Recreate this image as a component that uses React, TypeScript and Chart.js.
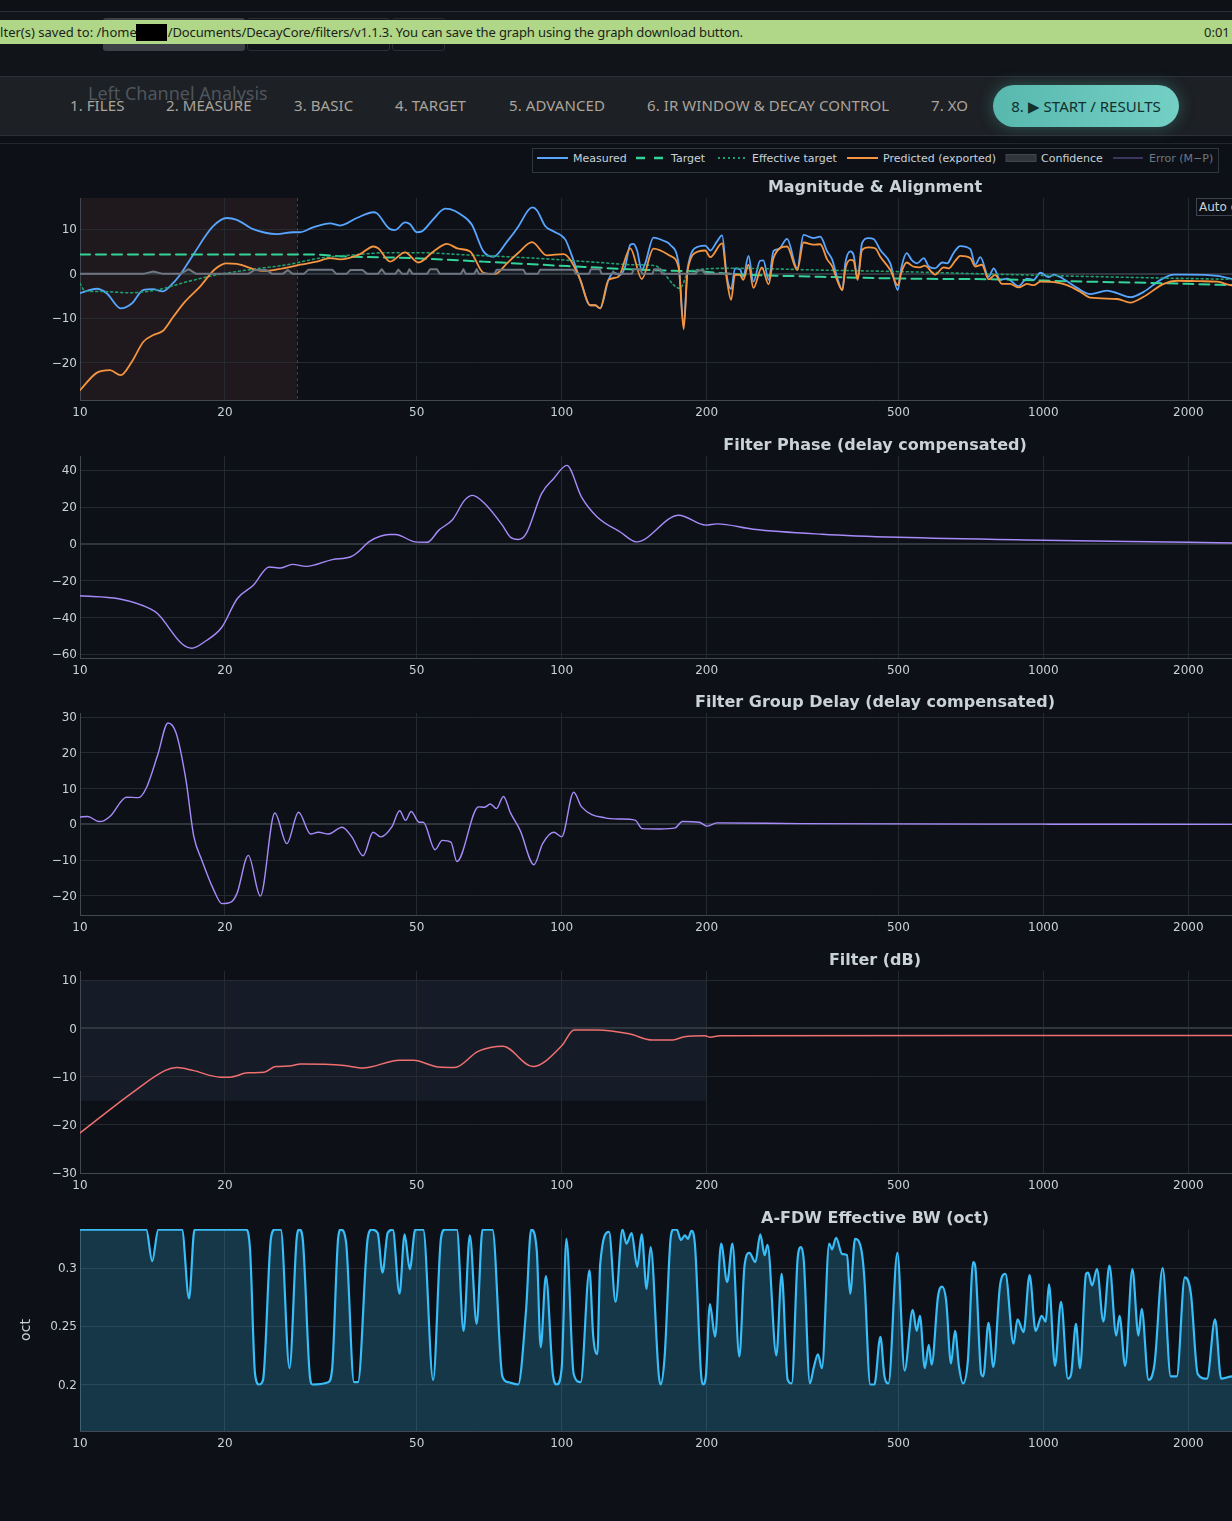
import React, { useEffect, useRef } from "react";
import { Chart, registerables } from "chart.js";

Chart.register(...registerables);

// ---------------- DATA ----------------
const X_TICKS = [10, 20, 50, 100, 200, 500, 1000, 2000, 5000, 10000, 20000];

const MEAS_HZ = [
  10, 10.83, 11.36, 12.15, 12.81, 13.52, 14.18, 14.85, 15.38, 16.13,
  17.17, 18.88, 20.17, 21.16, 22.88, 25.63, 27.7, 28.64, 30.47, 33.05,
  34.67, 37.55, 40.66, 41.3, 44.04, 45.1, 47.3, 48.46, 50.0, 51.25,
  54.1, 57.3, 58.67, 61.54, 65.1, 68.8, 72.2, 77.0, 81.3, 85.3,
  87.0, 88.9, 92.4, 96.1, 101.7, 104.2, 109.3, 114.6, 117.4, 120.2,
  125.1, 128.1, 132.3, 135.5, 138.8, 141.0, 143.3, 146.7, 149.1, 155.1,
  162.7, 168.0, 175.0, 179.2, 182.6, 192.4, 198.7, 203.5, 210.0, 215.3,
  220.3, 224.8, 229.0, 234.5, 238.2, 244.3, 250.1, 258.2, 262.3, 268.9,
  275.4, 282.1, 293.7, 308.4, 317.8, 333.2, 344.3, 355.8, 364.6, 372.9,
  382.6, 388.0, 397.4, 403.7, 411.6, 420.2, 433.5, 444.2, 458.7, 481.2,
  498.5, 508.0, 520.3, 532.7, 546.8, 564.6, 578.3, 596.2, 616.6, 631.3,
  650.8, 672.0, 705.3, 722.2, 740.0, 770.0, 788.7, 814, 840.7, 888.6,
  925, 954.7, 985.8, 1025.7, 1050.5, 1101, 1175, 1252, 1356, 1423,
  1516, 1615, 1751, 1865, 1988, 2296, 2446, 2500,
];
const MEAS_DB = [
  -4.4, -3.4, -4.4, -7.8, -6.7, -3.7, -3.5, -4.0, -2.8, -0.3,
  4.2, 10.6, 12.5, 12.1, 10.0, 8.9, 9.3, 9.3, 10.4, 11.3,
  10.8, 12.5, 13.8, 13.6, 10.0, 9.8, 11.5, 11.1, 9.3, 9.5,
  12.2, 14.6, 14.5, 13.4, 11.0, 5.0, 3.8, 7.2, 10.6, 14.3,
  14.9, 14.2, 10.7, 9.5, 7.7, 5.0, -1.4, -7.1, -7.1, -7.8,
  -1.4, 0.2, -0.3, 1.6, 6.5, 6.7, 5.3, 0.8, 2.3, 8.1,
  7.4, 6.5, 2.0, -11.5, 1.2, 6.1, 6.3, 5.2, 7.2, 8.6,
  -0.7, -3.5, 1.2, 1.0, -0.7, 4.0, -1.8, 2.9, 3.0, -1.4,
  5.1, 5.5, 7.8, 1.2, 8.7, 8.0, 8.3, 5.0, 3.1, -0.7,
  -3.7, 2.3, 5.0, 4.2, -1.1, 6.8, 8.0, 7.8, 5.3, 2.3,
  -3.7, 1.6, 4.6, 3.1, 2.3, 3.5, 1.6, 1.2, 2.5, 2.3,
  4.6, 6.2, 5.5, 2.0, 3.7, -0.7, 1.2, -1.4, -1.1, -2.8,
  -1.1, -1.4, 0.2, -0.8, -0.2, -1.2, -3.2, -4.6, -3.8, -4.4,
  -5.3, -4.1, -1.4, -0.2, -0.2, -0.5, -1.1, -1.3,
];

const PRED_HZ = [
  10, 10.83, 11.54, 12.15, 12.81, 13.54, 14.2, 14.85, 15.62, 16.52,
  17.75, 19.06, 20.17, 21.16, 23.3, 24.4, 26.4, 28.64, 31.0, 33.05,
  34.67, 38.15, 40.66, 41.6, 44.04, 47.3, 50.4, 54.2, 57.8, 61.0,
  64.55, 68.8, 72.7, 77.0, 81.3, 86.8, 93.1, 100.9, 104.2, 109.3,
  114.6, 117.4, 120.2, 125.1, 131.2, 138.8, 146.7, 155.1, 168.0, 175.0,
  179.2, 182.6, 192.4, 198.7, 203.5, 215.3, 220.3, 224.8, 229.0, 234.5,
  238.2, 244.3, 250.1, 260.3, 268.9, 275.4, 293.7, 308.4, 317.8, 333.2,
  344.3, 355.8, 364.6, 372.9, 382.6, 388.0, 397.4, 403.7, 411.6, 420.2,
  433.5, 447.5, 458.7, 481.2, 498.5, 508.0, 520.3, 536.7, 554.0, 567.4,
  596.2, 621.2, 636.0, 656.5, 672.0, 705.3, 722.2, 745.5, 770.0, 794.0,
  820.6, 853.4, 888.6, 925, 954.7, 985.8, 1068, 1120, 1194, 1252,
  1423, 1516, 1615, 1778, 1895, 2119, 2296, 2446, 2500,
];
const PRED_DB = [
  -26.2, -22.3, -21.7, -22.8, -19.8, -15.3, -13.8, -12.9, -9.7, -6.3,
  -2.9, 1.0, 2.3, 2.2, 0.8, 0.6, 1.2, 2.0, 2.7, 3.5,
  3.2, 4.4, 6.1, 5.7, 2.7, 4.8, 2.5, 5.0, 6.7, 5.6,
  5.0, 0.2, -0.1, 2.3, 4.7, 7.1, 4.1, 4.4, 3.1, -1.4,
  -7.1, -7.1, -7.8, -1.4, -0.7, 5.7, -1.2, 5.6, 4.0, 1.2,
  -12.5, 0.8, 5.0, 5.2, 3.7, 6.8, -1.4, -5.9, -0.2, -0.3,
  -1.4, 2.0, -3.2, 1.4, -2.4, 3.6, 6.1, 0.8, 7.0, 6.5,
  6.6, 3.2, 1.6, -1.4, -3.7, 1.0, 3.1, 2.9, -1.4, 5.3,
  5.9, 5.7, 3.8, 0.8, -2.6, 0.5, 2.5, 1.6, 1.4, 1.8,
  -0.2, 1.4, 1.2, 2.9, 4.0, 3.5, 1.6, 2.0, -1.3, -0.3,
  -2.3, -2.3, -3.1, -2.3, -2.6, -1.8, -2.0, -2.6, -4.1, -5.4,
  -5.7, -6.5, -5.2, -2.3, -1.6, -1.7, -1.8, -2.6, -2.7,
];

const TARGET_HZ = [10, 30.5, 34.7, 48.5, 68.7, 102.7, 152.7, 194, 227, 344, 505, 814, 1121, 1538, 1991, 2500];
const TARGET_DB = [4.3, 4.3, 3.9, 3.5, 2.7, 1.7, 0.8, 0.45, -0.1, -0.7, -1.1, -1.3, -1.7, -2.0, -2.3, -2.6];

const EFF_HZ = [
  10, 10.24, 11.0, 12.7, 14.66, 16.7, 19.5, 22.9, 26.9, 31.5,
  36.9, 43.4, 50.9, 63.6, 87.1, 120, 141, 156, 176, 184,
  227, 344, 505, 814, 1311, 2500,
];
const EFF_DB = [
  -2.2, -3.9, -4.0, -4.3, -3.5, -1.8, -0.15, 1.0, 2.0, 3.5,
  4.2, 4.7, 4.7, 4.2, 3.5, 2.5, 2.0, 1.8, -3.3, 0.6,
  1.2, 0.8, 0.45, -0.15, -0.7, -1.3,
];

const CONF_HZ = [
  10, 13.6, 14.2, 14.8, 16.2, 16.8, 17.4, 22.4, 23.0, 24.4,
  25.0, 26.4, 27.0, 27.6, 29.2, 29.8, 33.4, 34.0, 35.8, 36.4,
  38.6, 39.4, 41.6, 42.3, 43.0, 45.2, 45.8, 46.6, 47.8, 48.3,
  49.0, 52.6, 53.3, 55.1, 55.8, 61.8, 62.5, 63.2, 65.9, 66.6,
  67.3, 72.5, 73.3, 83.3, 84.2, 89.3, 90.2, 105.9, 107, 114,
  115, 120, 121, 127.3, 128, 128.7, 140, 141, 145.6, 147,
  154.5, 155.5, 160.3, 161.5, 190, 191.1, 197.2, 198.5, 225,
];
const CONF_DB = [
  0, 0, 0.5, 0, 0, 1.0, 0, 0, 0.8, 0.8,
  0, 0, 0.8, 0, 0, 0.9, 0.9, 0, 0, 0.8,
  0.8, 0, 0, 1.0, 0, 0, 0.9, 0, 0, 1.0,
  0, 0, 1.0, 1.0, 0, 0, 1.0, 0, 0, 1.0,
  0, 0, 0.9, 0.9, 0, 0, 0.9, 0.9, 0, 0,
  1.0, 1.0, 0, 0, 0.5, 0, 0, 1.0, 1.0, 0,
  0, 1.0, 1.0, 0, 0, 0.7, 0.7, 0, 0,
];

const DECAY_WINDOW_HZ = [10, 28.2];

const PHASE_HZ = [
  10, 12.03, 14.0, 14.5, 16.3, 17.07, 18.2, 19.7, 21.2, 22.9,
  24.7, 26.1, 27.6, 29.5, 33.4, 36.4, 37.4, 40.0, 43.9, 45.2,
  49.7, 52.6, 55.6, 59.4, 62.9, 65.3, 69.2, 75.3, 78.2, 81.2,
  84.4, 90.9, 96.3, 102.5, 109.9, 118.5, 132.3, 143, 175, 199.2,
  210.2, 250, 347, 500, 1000, 2000, 2500,
];
const PHASE_DEG = [
  -28.2, -29.8, -35.3, -38, -54.4, -56.7, -52.9, -45.3, -29.8, -22.5,
  -12.5, -13.1, -11.1, -12.2, -8.5, -7.1, -5.3, 1.5, 5.1, 5.1,
  1.1, 0.9, 7.5, 13.3, 23.8, 26.4, 22, 10.2, 3.8, 2.4,
  5.6, 27.5, 35.6, 42.7, 25.6, 14.7, 6.5, 1.1, 15.6, 10.2,
  10.9, 8, 5.3, 3.6, 2.0, 0.9, 0.5,
];

const GD_HZ = [
  10, 10.38, 10.94, 11.2, 11.58, 12.49, 13.22, 13.73, 14.5, 15.23,
  15.83, 16.59, 17.23, 17.89, 18.94, 19.7, 20.62, 21.2, 22.36, 23.68,
  25.38, 26.88, 28.43, 30.1, 31.26, 32.78, 35.0, 36.7, 38.7, 40.6,
  42.1, 44.4, 46.1, 47.4, 48.7, 50.6, 51.6, 54.6, 56.5, 58.9,
  60.6, 67.2, 69.2, 71.1, 73.2, 75.7, 78.3, 82.0, 87.6, 91.3,
  96.3, 100, 105.9, 110, 123.1, 132, 142, 147, 160, 172,
  178, 193, 200, 210, 313, 1000, 2500,
];
const GD_MS = [
  2.05, 2.2, 0.8, 1.0, 2.4, 7.6, 7.5, 10.2, 19.5, 28.4,
  25.6, 12.5, -3.4, -9.9, -18.3, -22.2, -21.7, -19.2, -8.7, -20.1,
  3.2, -5.4, 3.4, -2.7, -2.2, -2.7, -0.8, -3.6, -8.8, -2.2,
  -3.5, -0.7, 3.8, 1.1, 3.6, 0.6, 0.6, -7.1, -4.5, -5.0,
  -10.4, 4.9, 4.8, 5.7, 4.4, 7.8, 3.2, -1.7, -11.3, -5.4,
  -2.2, -3.5, 9.0, 4.9, 1.8, 1.5, 1.2, -1.2, -1.3, -1.0,
  0.8, 0.6, -0.5, 0.4, 0.2, 0.05, 0,
];

const FILTER_HZ = [
  10, 12.89, 15.04, 15.89, 17.15, 19.57, 20.45, 22.32, 24.1, 25.47,
  27.2, 28.73, 35.4, 38.65, 46.07, 49.2, 55.5, 59.95, 66.9, 71.5,
  75.5, 87.1, 100, 106.1, 118.5, 138.1, 154.2, 170.1, 179.8, 198.4,
  202.8, 213.4, 2500,
];
const FILTER_DB = [
  -21.7, -13.2, -8.7, -8.1, -8.7, -10.1, -10.1, -9.2, -9.1, -7.9,
  -7.8, -7.4, -7.7, -8.2, -6.6, -6.6, -8.0, -8.1, -4.8, -3.9,
  -3.7, -7.9, -3.6, -0.3, -0.3, -1.1, -2.4, -2.4, -1.7, -1.5,
  -1.8, -1.5, -1.45,
];
const FILTER_LIMIT_HZ = [10, 200];
const FILTER_LIMIT_DB = [-15, 10];

const BW_HZ = [
  10, 13.73, 14.12, 14.54, 16.28, 16.84, 17.29, 22.11, 22.55, 23.09,
  23.54, 23.99, 24.92, 25.39, 26.11, 27.22, 28.17, 28.54, 28.98, 29.98,
  30.39, 32.77, 33.39, 34.36, 34.81, 35.68, 37.06, 37.77, 39.58, 40.35,
  41.5, 42.47, 43.52, 44.59, 46.06, 47.2, 48.37, 49.68, 51.59, 54.09,
  56.18, 57.23, 60.59, 62.56, 64.47, 66.6, 68.5, 71.83, 75.31, 77.46,
  81.22, 84.35, 86.43, 88.78, 90.45, 92.73, 95.93, 97.74, 100, 102.3,
  105.9, 109.5, 114.2, 116.3, 118.6,
  120.2, 125.4, 129.4, 133.7, 136.3, 139.7, 143.5, 146.6, 150.1, 153.0,
  159.0, 160.5, 163.6, 168.4, 170.7, 173.4, 176.8, 180.2, 183.0, 185.9,
  189.1, 194.7, 196.5, 199.2, 203.1, 208.2, 214.3, 220.6, 226.2, 233.8,
  239.7, 245.3, 252.5, 258.4, 263.9, 267.5, 279.1, 286.2, 294.6, 300.3,
  309.1, 313.9, 318.2, 327.6, 333.9, 340.4, 347.0, 359.3, 364.2, 371.3,
  382.2, 391.1, 397.2, 406.5, 419.2, 424.9, 437.3, 445.9, 458.9, 467.9,
  477.0, 497.7, 515.2, 535.5, 545.9, 554.3, 567.4, 578.4, 586.3, 604.6,
  616.4, 628.4, 643.1, 655.6, 668.3, 681.4, 697.3, 715.0, 721.9, 743.1,
  750.3, 769.4, 787.3, 813.6, 834.2, 867.0, 883.9, 909.7, 936.4, 963.9,
  992.2, 1011.5, 1027.2, 1057.3, 1088.3, 1124.6, 1142.1, 1168.8, 1191.6, 1226.5,
  1238.4, 1262.5, 1292.0, 1332.5, 1371.6, 1417.2, 1439.2, 1478.7, 1530.8, 1575.7,
  1600.2, 1653.5, 1701.9, 1768.9, 1838.4, 1892.3, 1966.7, 2024.5, 2092.0, 2186.8,
  2272.7, 2339.4, 2469, 2520,
];
const BW_OCT = [
  0.333, 0.333, 0.306, 0.333, 0.333, 0.274, 0.333, 0.333, 0.315, 0.209,
  0.2, 0.204, 0.326, 0.333, 0.333, 0.214, 0.325, 0.333, 0.326, 0.209,
  0.2, 0.202, 0.214, 0.326, 0.333, 0.322, 0.202, 0.202, 0.326, 0.333,
  0.33, 0.296, 0.33, 0.333, 0.278, 0.329, 0.299, 0.333, 0.333, 0.204,
  0.326, 0.333, 0.333, 0.246, 0.328, 0.252, 0.333, 0.333, 0.207, 0.202,
  0.2, 0.264, 0.333, 0.315, 0.232, 0.293, 0.208, 0.2, 0.214, 0.325,
  0.209, 0.202, 0.298, 0.241, 0.226,
  0.303, 0.331, 0.271, 0.333, 0.321, 0.33, 0.301, 0.329, 0.282, 0.318,
  0.209, 0.2, 0.224, 0.326, 0.333, 0.333, 0.324, 0.328, 0.325, 0.332,
  0.32, 0.209, 0.2, 0.207, 0.269, 0.241, 0.321, 0.288, 0.321, 0.224,
  0.302, 0.313, 0.305, 0.329, 0.311, 0.32, 0.225, 0.295, 0.204, 0.201,
  0.309, 0.318, 0.306, 0.201, 0.215, 0.226, 0.214, 0.321, 0.316, 0.326,
  0.312, 0.311, 0.278, 0.325, 0.315, 0.292, 0.2, 0.2, 0.241, 0.207,
  0.201, 0.313, 0.212, 0.264, 0.246, 0.259, 0.214, 0.234, 0.217, 0.276,
  0.284, 0.272, 0.218, 0.246, 0.215, 0.201, 0.221, 0.305, 0.302, 0.209,
  0.207, 0.253, 0.215, 0.286, 0.295, 0.235, 0.256, 0.245, 0.294, 0.246,
  0.259, 0.254, 0.286, 0.216, 0.271, 0.205, 0.209, 0.252, 0.214, 0.295,
  0.296, 0.285, 0.299, 0.254, 0.302, 0.242, 0.259, 0.216, 0.299, 0.242,
  0.265, 0.204, 0.218, 0.3, 0.207, 0.207, 0.292, 0.278, 0.209, 0.205,
  0.256, 0.205, 0.207, 0.207,
];

// ---------------- STYLE ----------------
const PAGE_BG = "#0d1117";
const TEXT = "#c9d1d9";
const GRID = "#252a31";
const ZERO = "#30363d";
const AXIS = "#414851";
const FONT_PLOT = "'DejaVu Sans', sans-serif";
const FONT_UI = "'Noto Sans', sans-serif";

const C_MEAS = "#58a6ff";
const C_TARGET = "#34d399";
const C_EFF = "#1f9e6e";
const C_PRED = "#f5953f";
const C_CONF = "#6e7681";
const C_PURPLE = "#a78bfa";
const C_FILTER = "#f07070";
const C_BW = "#38bdf8";

const FIG_W = 1750;
const CANVAS_H = 250;
const PLOT_LEFT = 80;

Chart.defaults.font.family = FONT_PLOT;

function pts(xs: number[], ys: number[]) {
  return xs.map((x, i) => ({ x, y: ys[i] }));
}

const fmtSigned = (v: number) => (v < 0 ? "\u2212" + Math.abs(v) : String(v));
const fmtHz = (v: number) => (v >= 10000 ? v / 1000 + "k" : String(v));

function makeOptions(yMin: number, yMax: number, yStep: number, yFmt: (v: number) => string, yTitle?: string) {
  return {
    responsive: false,
    animation: false,
    devicePixelRatio: 1,
    events: [],
    layout: { padding: { top: 20, right: 80, bottom: 0, left: 0 } },
    plugins: { legend: { display: false }, title: { display: false }, tooltip: { enabled: false } },
    elements: { point: { radius: 0 }, line: { borderJoinStyle: "round", borderCapStyle: "round" } },
    scales: {
      x: {
        type: "logarithmic",
        min: 10,
        max: 20000,
        afterBuildTicks: (s: any) => {
          s.ticks = X_TICKS.map((v) => ({ value: v }));
        },
        afterFit: (s: any) => {
          s.height = 28;
        },
        ticks: {
          autoSkip: false,
          maxRotation: 0,
          padding: 6,
          color: TEXT,
          font: { family: FONT_PLOT, size: 12 },
          callback: (v: any) => fmtHz(Number(v)),
        },
        grid: { color: GRID, drawTicks: false },
        border: { color: AXIS, width: 1 },
      },
      y: {
        min: yMin,
        max: yMax,
        afterFit: (s: any) => {
          s.width = PLOT_LEFT;
        },
        ticks: {
          stepSize: yStep,
          includeBounds: false,
          padding: 3,
          labelOffset: 1,
          color: TEXT,
          font: { family: FONT_PLOT, size: 12 },
          callback: (v: any) => yFmt(Number(v)),
        },
        grid: {
          drawTicks: false,
          color: (c: any) => (c.tick && Math.abs(c.tick.value) < 1e-9 ? ZERO : GRID),
          lineWidth: (c: any) => (c.tick && Math.abs(c.tick.value) < 1e-9 ? 2 : 1),
        },
        border: { color: AXIS, width: 1 },
        title: yTitle
          ? { display: true, text: yTitle, color: TEXT, font: { family: FONT_PLOT, size: 14 }, padding: { top: 18, bottom: 0 } }
          : { display: false },
      },
    },
  };
}

function shadePlugin(id: string, hz: number[], color: string, db?: number[]) {
  return {
    id,
    beforeDraw(chart: any) {
      const { ctx, chartArea, scales } = chart;
      const x0 = scales.x.getPixelForValue(hz[0]);
      const x1 = scales.x.getPixelForValue(hz[1]);
      const y0 = db ? scales.y.getPixelForValue(db[1]) : chartArea.top;
      const y1 = db ? scales.y.getPixelForValue(db[0]) : chartArea.bottom;
      ctx.save();
      ctx.fillStyle = color;
      ctx.fillRect(x0, y0, x1 - x0, y1 - y0);
      ctx.restore();
    },
  };
}

const windowMarker = {
  id: "windowMarker",
  beforeDatasetsDraw(chart: any) {
    const { ctx, chartArea, scales } = chart;
    const x = Math.round(scales.x.getPixelForValue(DECAY_WINDOW_HZ[1])) + 0.5;
    ctx.save();
    ctx.strokeStyle = "rgba(190,70,90,0.55)";
    ctx.lineWidth = 1;
    ctx.setLineDash([3, 3]);
    ctx.beginPath();
    ctx.moveTo(x, chartArea.top);
    ctx.lineTo(x, chartArea.bottom);
    ctx.stroke();
    ctx.restore();
  },
};

const magConfig = () => ({
  type: "line",
  data: {
    datasets: [
      { label: "Confidence", data: pts(CONF_HZ, CONF_DB), borderColor: C_CONF, backgroundColor: "rgba(110,118,129,0.12)", borderWidth: 2, fill: "origin", tension: 0 },
      { label: "Predicted (exported)", data: pts(PRED_HZ, PRED_DB), borderColor: C_PRED, borderWidth: 1.8, fill: false, cubicInterpolationMode: "monotone" },
      { label: "Effective target", data: pts(EFF_HZ, EFF_DB), borderColor: C_EFF, borderWidth: 1.6, borderDash: [2, 3], fill: false, cubicInterpolationMode: "monotone" },
      { label: "Target", data: pts(TARGET_HZ, TARGET_DB), borderColor: C_TARGET, borderWidth: 2, borderDash: [10, 6], fill: false, cubicInterpolationMode: "monotone" },
      { label: "Measured", data: pts(MEAS_HZ, MEAS_DB), borderColor: C_MEAS, borderWidth: 1.8, fill: false, cubicInterpolationMode: "monotone" },
    ],
  },
  options: makeOptions(-28.4, 17.0, 10, fmtSigned),
  plugins: [shadePlugin("decayShade", DECAY_WINDOW_HZ, "rgba(133,77,76,0.15)"), windowMarker],
});

const phaseConfig = () => ({
  type: "line",
  data: {
    datasets: [
      { label: "Phase", data: pts(PHASE_HZ, PHASE_DEG), borderColor: C_PURPLE, borderWidth: 1.4, fill: false, cubicInterpolationMode: "monotone" },
    ],
  },
  options: makeOptions(-62.0, 47.8, 20, fmtSigned),
});

const gdConfig = () => ({
  type: "line",
  data: {
    datasets: [
      { label: "Group delay", data: pts(GD_HZ, GD_MS), borderColor: C_PURPLE, borderWidth: 1.4, fill: false, cubicInterpolationMode: "monotone" },
    ],
  },
  options: makeOptions(-25.4, 31.2, 10, fmtSigned),
});

const filterConfig = () => ({
  type: "line",
  data: {
    datasets: [
      { label: "Filter", data: pts(FILTER_HZ, FILTER_DB), borderColor: C_FILTER, borderWidth: 1.5, fill: false, cubicInterpolationMode: "monotone" },
    ],
  },
  options: makeOptions(-30, 11.93, 10, fmtSigned),
  plugins: [shadePlugin("filterShade", FILTER_LIMIT_HZ, "rgba(88,109,165,0.12)", FILTER_LIMIT_DB)],
});

const bwConfig = () => ({
  type: "line",
  data: {
    datasets: [
      { label: "BW", data: pts(BW_HZ, BW_OCT), borderColor: C_BW, backgroundColor: "rgba(56,189,248,0.22)", borderWidth: 2.2, fill: "start", cubicInterpolationMode: "monotone" },
    ],
  },
  options: makeOptions(0.1601, 0.3335, 0.05, (v: number) => String(Number(v.toFixed(3))), "oct"),
});

function PlotPanel({ top, title, build }: { top: number; title: string; build: () => any }) {
  const ref = useRef<HTMLCanvasElement | null>(null);
  useEffect(() => {
    if (!ref.current) return;
    const chart = new Chart(ref.current, build());
    return () => chart.destroy();
  }, []);
  return (
    <div style={{ position: "absolute", left: 0, top, width: FIG_W, height: CANVAS_H }}>
      <canvas ref={ref} width={FIG_W} height={CANVAS_H} style={{ display: "block", width: FIG_W, height: CANVAS_H }} />
      <div
        style={{
          position: "absolute",
          left: 0,
          top: -1,
          width: FIG_W,
          textAlign: "center",
          fontFamily: FONT_PLOT,
          fontWeight: "bold",
          fontSize: 16,
          lineHeight: "20px",
          color: TEXT,
          whiteSpace: "nowrap",
          pointerEvents: "none",
        }}
      >
        {title}
      </div>
    </div>
  );
}

const TABS: [string, number][] = [
  ["1. FILES", 70],
  ["2. MEASURE", 166],
  ["3. BASIC", 294],
  ["4. TARGET", 395],
  ["5. ADVANCED", 509],
  ["6. IR WINDOW & DECAY CONTROL", 647],
  ["7. XO", 931],
];

const LEGEND_TEXT: [string, number, string][] = [
  ["Measured", 573, TEXT],
  ["Target", 671, TEXT],
  ["Effective target", 752, TEXT],
  ["Predicted (exported)", 883, TEXT],
  ["Confidence", 1041, TEXT],
  ["Error (M\u2212P)", 1149, "#6e7681"],
];

export default function App() {
  useEffect(() => {
    document.body.style.margin = "0";
    document.body.style.background = PAGE_BG;
    document.body.style.overflow = "hidden";
  }, []);

  const abs = (s: any) => ({ position: "absolute", ...s });

  return (
    <div style={{ position: "absolute", left: 0, top: 0, width: 1232, height: 1521, overflow: "hidden", background: PAGE_BG, fontFamily: FONT_UI }}>
      {/* top app strip */}
      <div style={abs({ left: 0, top: 0, width: 1232, height: 11, background: "#0e1115" })} />
      <div style={abs({ left: 0, top: 11, width: 1232, height: 1, background: "#2b2f35" })} />
      <div style={abs({ left: 0, top: 12, width: 1232, height: 64, background: "#111419" })} />
      <div style={abs({ left: 103, top: 18, width: 142, height: 33, background: "#3d4046", borderRadius: 3 })} />
      <div style={abs({ left: 247, top: 18, width: 143, height: 33, border: "1px solid #2b2f35", boxSizing: "border-box", borderRadius: 3 })} />
      <div style={abs({ left: 392, top: 18, width: 53, height: 33, border: "1px solid #2b2f35", boxSizing: "border-box", borderRadius: 3 })} />

      {/* toast */}
      <div style={abs({ left: 0, top: 20, width: 1232, height: 24, background: "#b0d688" })} />
      <div style={abs({ left: -10, top: 20, height: 24, lineHeight: "24px", fontSize: 13, color: "#1c1f1a", whiteSpace: "nowrap" })}>
        Filter(s) saved to: /home
        <span style={{ display: "inline-block", width: 31 }} />
        <span style={{ letterSpacing: "-0.12px" }}>
          /Documents/DecayCore/filters/v1.1.3. You can save the graph using the graph download button.
        </span>
      </div>
      <div style={abs({ left: 136, top: 24, width: 31, height: 17, background: "#000" })} />
      <div style={abs({ left: 1204, top: 20, height: 24, lineHeight: "24px", fontSize: 13, color: "#1c1f1a", whiteSpace: "nowrap" })}>0:01</div>

      {/* nav bar */}
      <div style={abs({ left: 0, top: 76, width: 1232, height: 60, background: "#1d2024", borderTop: "1px solid #2c3036", borderBottom: "1px solid #2c3036", boxSizing: "border-box" })} />
      <div style={abs({ left: 88, top: 82, fontSize: 18, lineHeight: "22px", color: "#4f555d", whiteSpace: "nowrap" })}>Left Channel Analysis</div>
      {TABS.map(([t, x]) => (
        <div key={t} style={abs({ left: x, top: 98, fontSize: 15, lineHeight: "15px", color: "#aaa49c", whiteSpace: "nowrap", letterSpacing: "0.08px" })}>
          {t}
        </div>
      ))}
      <div
        style={abs({
          left: 993,
          top: 85,
          width: 186,
          height: 42,
          borderRadius: 21,
          background: "linear-gradient(90deg, #58b8ae, #74d0c5)",
          boxShadow: "0 0 16px rgba(90,200,185,0.35)",
          textAlign: "center",
          lineHeight: "42px",
          fontSize: 15,
          color: "#12302c",
          whiteSpace: "nowrap",
        })}
      >
        8. {"\u25B6"} START / RESULTS
      </div>

      {/* separator + legend */}
      <div style={abs({ left: 0, top: 143, width: 1232, height: 1, background: "#22272e" })} />
      <div style={abs({ left: 532, top: 148, width: 687, height: 25, border: "1px solid #30363d", boxSizing: "border-box" })} />
      <svg width={1232} height={30} style={{ position: "absolute", left: 0, top: 145 }}>
        <line x1={537} x2={568} y1={13} y2={13} stroke={C_MEAS} strokeWidth={2} />
        <line x1={636} x2={664} y1={13} y2={13} stroke={C_TARGET} strokeWidth={2.5} strokeDasharray="9 9" />
        <line x1={718} x2={746} y1={13} y2={13} stroke={C_EFF} strokeWidth={2} strokeDasharray="2 3" />
        <line x1={847} x2={878} y1={13} y2={13} stroke={C_PRED} strokeWidth={2} />
        <rect x={1006} y={9.5} width={30} height={7} fill="#30353c" stroke="#41474f" strokeWidth={1} />
        <line x1={1113} x2={1143} y1={13} y2={13} stroke="#3b3560" strokeWidth={2} />
      </svg>
      {LEGEND_TEXT.map(([t, x, c]) => (
        <div key={t} style={abs({ left: x, top: 152, fontFamily: FONT_PLOT, fontSize: 11, lineHeight: "14px", color: c, whiteSpace: "nowrap" })}>
          {t}
        </div>
      ))}

      <PlotPanel top={178} title="Magnitude & Alignment" build={magConfig} />
      <PlotPanel top={436} title="Filter Phase (delay compensated)" build={phaseConfig} />
      <PlotPanel top={693} title="Filter Group Delay (delay compensated)" build={gdConfig} />
      <PlotPanel top={951} title="Filter (dB)" build={filterConfig} />
      <PlotPanel top={1209} title="A-FDW Effective BW (oct)" build={bwConfig} />

      {/* auto gain badge */}
      <div
        style={abs({
          left: 1196,
          top: 198,
          height: 16,
          padding: "0 2px",
          border: "1px solid #3d444d",
          background: PAGE_BG,
          fontFamily: FONT_PLOT,
          fontSize: 12,
          lineHeight: "16px",
          color: TEXT,
          whiteSpace: "nowrap",
        })}
      >
        Auto gain
      </div>
    </div>
  );
}
